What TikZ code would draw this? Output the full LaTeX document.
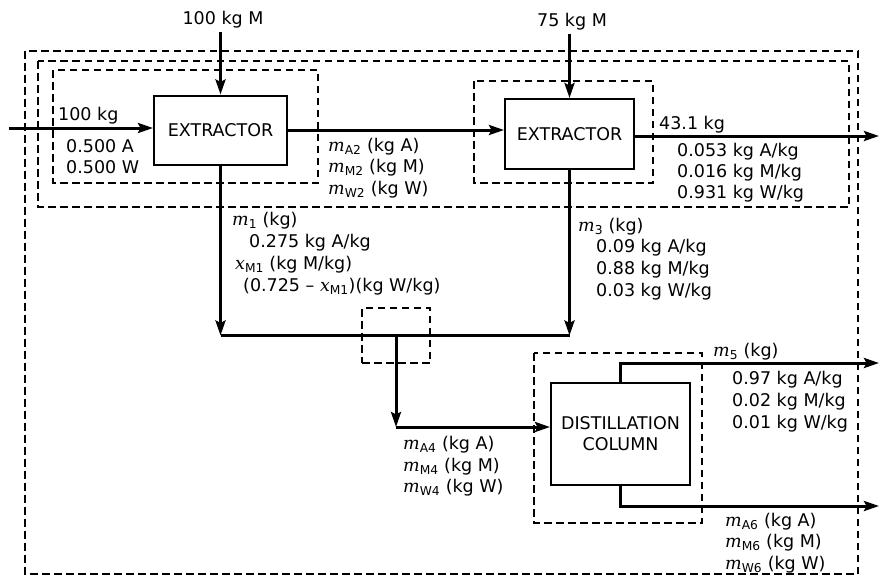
\documentclass[tikz,border=0pt]{standalone}
\usepackage{amsmath}
\usepackage{fontspec}
\setmainfont{DejaVu Sans}
\newfontfamily\mfont{DejaVu Serif}
\usetikzlibrary{arrows.meta}
\newcommand\dgfont{\fontsize{17.5}{21}\selectfont}
\newcommand\mv[2]{\text{\mfont\itshape #1}_{\text{#2}}}
\begin{document}
\begin{tikzpicture}[x=1pt,y=-1pt,
  flow/.style={line width=3pt, -{Stealth[length=15pt,width=10pt,inset=2.5pt]}},
  pipe/.style={line width=3pt},
  bnd/.style={line width=1.7pt, dash pattern=on 7.5pt off 4.5pt},
  unit/.style={draw, line width=2pt, inner sep=0pt, font=\dgfont, align=center},
  lbl/.style={anchor=west, inner sep=0pt, font=\dgfont},
  top/.style={inner sep=3pt, font=\dgfont},
]
\useasboundingbox (0,0) rectangle (880,582);

% dashed system boundaries
\draw[bnd] (25,51) rectangle (858,574);
\draw[bnd] (38,61) rectangle (849,207);
\draw[bnd] (53,70) rectangle (318,183);
\draw[bnd] (474,81) rectangle (653,183);
\draw[bnd] (534,353) rectangle (702,523);

% units
\node[unit, minimum width=133pt, minimum height=69pt] (ext1) at (220.5,130) {EXTRACTOR};
\node[unit, minimum width=129pt, minimum height=70pt] (ext2) at (569.5,134) {EXTRACTOR};
\node[unit, minimum width=139pt, minimum height=102pt] (dist) at (620.5,434) {DISTILLATION\\COLUMN};
\node[bnd, draw, minimum width=68pt, minimum height=55pt, inner sep=0pt] (mix) at (396,335.5) {};

% feeds
\node[top] (f100) at (223,20) {100 kg M};
\node[top] (f75) at (572,22) {75 kg M};
\draw[flow] (f100.south -| ext1.north) -- (ext1.north);
\draw[flow] (f75.south -| ext2.north) -- (ext2.north);

\coordinate (in1) at (9,128);
\draw[flow] (in1) -- (in1 -| ext1.west);
\draw[flow] (ext1.east) -- (ext1.east -| ext2.west);

\coordinate (o1) at (879,136);
\draw[flow] (ext2.east |- o1) -- (o1);

% streams 1 and 3 to mixing point
\coordinate (j1) at (ext1.south |- mix.center);
\coordinate (j3) at (ext2.south |- mix.center);
\draw[flow] (ext1.south) -- (j1);
\draw[flow] (ext2.south) -- (j3);
\draw[pipe] (j1) -- (j3);

% stream 4
\coordinate (j4) at (mix.center |- 0,427);
\draw[flow] (mix.center) -- (j4);
\draw[flow] (j4) -- (j4 -| dist.west);

% distillation products
\coordinate (t5) at (dist.north |- 0,363);
\coordinate (o5) at (879,363);
\draw[flow] (dist.north) -- (t5) -- (o5);
\coordinate (b6) at (dist.south |- 0,506);
\coordinate (o6) at (879,506);
\draw[flow] (dist.south) -- (b6) -- (o6);

% labels
\node[lbl] (l100) at (58,116) {100 kg};
\node[lbl] (l0a) at (66,146) {0.500 A};
\node[lbl] (l0w) at (66,167) {0.500 W};

\node[lbl] (la2) at (328,147) {$\mv{m}{A2}$ (kg A)};
\node[lbl] (lm2) at (328,168) {$\mv{m}{M2}$ (kg M)};
\node[lbl] (lw2) at (328,190) {$\mv{m}{W2}$ (kg W)};

\node[lbl] (l43) at (659,125) {43.1 kg};
\node[lbl] (l053) at (677,152) {0.053 kg A/kg};
\node[lbl] (l016) at (677,173) {0.016 kg M/kg};
\node[lbl] (l931) at (677,194) {0.931 kg W/kg};

\node[lbl] (lm1) at (232,221) {$\mv{m}{1}$ (kg)};
\node[lbl] (l275) at (249,243) {0.275 kg A/kg};
\node[lbl] (lx1) at (235,265) {$\mv{x}{M1}$ (kg M/kg)};
\node[lbl] (l725) at (243,287) {(0.725 -- $\mv{x}{M1}$)(kg W/kg)};

\node[lbl] (lm3) at (578,227) {$\mv{m}{3}$ (kg)};
\node[lbl] (l09) at (596,248) {0.09 kg A/kg};
\node[lbl] (l88) at (596,270) {0.88 kg M/kg};
\node[lbl] (l03) at (596,292) {0.03 kg W/kg};

\node[lbl] (lm5) at (713,352) {$\mv{m}{5}$ (kg)};
\node[lbl] (l97) at (732,380) {0.97 kg A/kg};
\node[lbl] (l02) at (732,402) {0.02 kg M/kg};
\node[lbl] (l01) at (732,424) {0.01 kg W/kg};

\node[lbl] (la4) at (403,445) {$\mv{m}{A4}$ (kg A)};
\node[lbl] (lm4) at (403,467) {$\mv{m}{M4}$ (kg M)};
\node[lbl] (lw4) at (403,488) {$\mv{m}{W4}$ (kg W)};

\node[lbl] (la6) at (725,522) {$\mv{m}{A6}$ (kg A)};
\node[lbl] (lm6) at (725,543) {$\mv{m}{M6}$ (kg M)};
\node[lbl] (lw6) at (725,565) {$\mv{m}{W6}$ (kg W)};
\end{tikzpicture}
\end{document}
